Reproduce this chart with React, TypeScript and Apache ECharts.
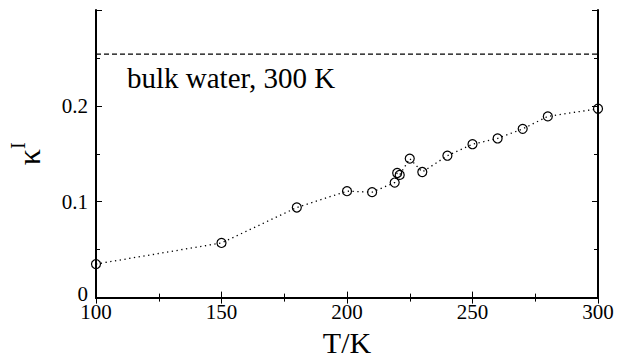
import React, { useEffect, useRef } from "react";
import * as echarts from "echarts";

const temperatures = [100, 150, 180, 200, 210, 219, 220, 221, 225, 230, 240, 250, 260, 270, 280, 300];
const kappaValues = [0.035, 0.057, 0.094, 0.111, 0.110, 0.120, 0.130, 0.128, 0.145, 0.131, 0.148, 0.160, 0.166, 0.176, 0.189, 0.197];
const bulkValue = 0.254;
const bulkLabel = "bulk water, 300 K";
const xTicks = { min: 100, max: 300, interval: 50 };
const yTicks = { min: 0, max: 0.3, interval: 0.1 };

const FONT = "Liberation Serif";

export default function App() {
  const ref = useRef<HTMLDivElement>(null);
  useEffect(() => {
    document.body.style.margin = "0";
    if (!ref.current) return;
    const chart = echarts.init(ref.current, undefined, { renderer: "svg" });
    const axisLine = { show: true, lineStyle: { color: "#000", width: 2 } };
    const xBase = {
      type: "value" as const,
      min: xTicks.min,
      max: xTicks.max,
      interval: xTicks.interval,
      axisLine,
      axisTick: { show: true, inside: true, length: 6, lineStyle: { color: "#000", width: 1 } },
      minorTick: { show: true, splitNumber: 2, length: 4, lineStyle: { color: "#000", width: 1 } },
      splitLine: { show: false },
    };
    const yBase = {
      type: "value" as const,
      min: yTicks.min,
      max: yTicks.max,
      interval: yTicks.interval,
      axisLine,
      axisTick: { show: true, inside: true, length: 6, lineStyle: { color: "#000", width: 1 } },
      minorTick: { show: true, splitNumber: 2, length: 4, lineStyle: { color: "#000", width: 1 } },
      splitLine: { show: false },
    };
    chart.setOption({
      animation: false,
      backgroundColor: "#fff",
      textStyle: { fontFamily: FONT },
      title: {
        text: bulkLabel,
        left: 122,
        top: 58,
        textStyle: { fontFamily: FONT, fontSize: 29, fontWeight: "normal", color: "#000" },
      },
      grid: { left: 93, right: 30, top: 10, bottom: 58, containLabel: false },
      xAxis: [
        {
          ...xBase,
          position: "bottom",
          name: "T/K",
          nameLocation: "middle",
          nameGap: 24,
          nameTextStyle: { fontFamily: FONT, fontSize: 30, color: "#000" },
          axisLabel: { show: true, fontFamily: FONT, fontSize: 21, lineHeight: 18, color: "#000", margin: 5, showMinLabel: true, showMaxLabel: true },
        },
        { ...xBase, position: "top", axisLabel: { show: false } },
      ],
      yAxis: [
        {
          ...yBase,
          position: "left",
          name: "{k|κ}{s|I}",
          nameLocation: "middle",
          nameRotate: 90,
          nameGap: 46,
          nameTextStyle: {
            fontFamily: FONT,
            color: "#000",
            rich: {
              k: { fontFamily: FONT, fontSize: 32, color: "#000" },
              s: { fontFamily: FONT, fontSize: 20, color: "#000", padding: [0, 0, 22, 0] },
            },
          },
          axisLabel: {
            show: true,
            fontFamily: FONT,
            fontSize: 21,
            color: "#000",
            margin: 8,
            formatter: (v: number) => {
              if (v >= 0.3 - 1e-9) return "";
              if (v <= 1e-9) return "{z|0}";
              return String(Math.round(v * 10) / 10);
            },
            rich: {
              z: { fontFamily: FONT, fontSize: 21, lineHeight: 16, color: "#000", padding: [0, 0, 8, 0] },
            },
          },
        },
        { ...yBase, position: "right", axisLabel: { show: false } },
      ],
      series: [
        {
          type: "line",
          data: [
            [xTicks.min, bulkValue],
            [xTicks.max, bulkValue],
          ],
          symbol: "none",
          lineStyle: { color: "#000", width: 1.2, type: [5, 3] },
          silent: true,
        },
        {
          type: "line",
          data: temperatures.map((t, i) => [t, kappaValues[i]]),
          symbol: "circle",
          symbolSize: 9,
          itemStyle: { color: "rgba(0,0,0,0)", borderColor: "#000", borderWidth: 1.2 },
          lineStyle: { color: "#000", width: 1.3, type: [1.3, 3.5] },
        },
      ],
    });
    return () => chart.dispose();
  }, []);
  return <div ref={ref} style={{ width: 628, height: 362 }} />;
}
